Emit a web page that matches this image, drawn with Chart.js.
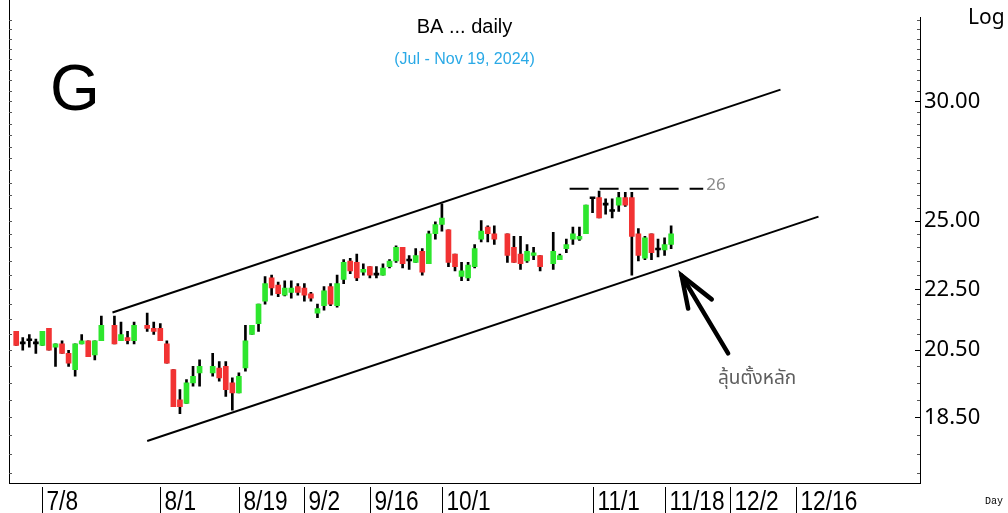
<!DOCTYPE html>
<html>
<head>
<meta charset="utf-8">
<script src="https://cdn.jsdelivr.net/npm/chart.js@4.4.1/dist/chart.umd.min.js"></script>
<style>
  html, body { margin: 0; padding: 0; background: #fff; }
  canvas { display: block; }
</style>
</head>
<body>
<canvas id="baChart" width="1008" height="513"></canvas>
<script>
// Daily candles, Jul 2 - Nov 19 2024 (SET holidays are simply missing)
const dates = [
  '2024-07-02', '2024-07-03', '2024-07-04', '2024-07-05',
  '2024-07-08', '2024-07-09', '2024-07-10', '2024-07-11', '2024-07-12',
  '2024-07-15', '2024-07-16', '2024-07-17', '2024-07-18', '2024-07-19',
  '2024-07-23', '2024-07-24', '2024-07-25', '2024-07-26',
  '2024-07-30', '2024-07-31', '2024-08-01', '2024-08-02',
  '2024-08-05', '2024-08-06', '2024-08-07', '2024-08-08', '2024-08-09',
  '2024-08-13', '2024-08-14', '2024-08-15', '2024-08-16',
  '2024-08-19', '2024-08-20', '2024-08-21', '2024-08-22', '2024-08-23',
  '2024-08-26', '2024-08-27', '2024-08-28', '2024-08-29', '2024-08-30',
  '2024-09-02', '2024-09-03', '2024-09-04', '2024-09-05', '2024-09-06',
  '2024-09-09', '2024-09-10', '2024-09-11', '2024-09-12', '2024-09-13',
  '2024-09-16', '2024-09-17', '2024-09-18', '2024-09-19', '2024-09-20',
  '2024-09-23', '2024-09-24', '2024-09-25', '2024-09-26', '2024-09-27',
  '2024-09-30', '2024-10-01', '2024-10-02', '2024-10-03', '2024-10-04',
  '2024-10-07', '2024-10-08', '2024-10-09', '2024-10-10', '2024-10-11',
  '2024-10-15', '2024-10-16', '2024-10-17', '2024-10-18',
  '2024-10-21', '2024-10-22', '2024-10-24', '2024-10-25',
  '2024-10-28', '2024-10-29', '2024-10-30', '2024-10-31', '2024-11-01',
  '2024-11-04', '2024-11-05', '2024-11-06', '2024-11-07', '2024-11-08',
  '2024-11-11', '2024-11-12', '2024-11-13', '2024-11-14', '2024-11-15',
  '2024-11-18', '2024-11-19'
];
const opens = [
  21.1, 20.7, 20.8, 20.7,
  20.65, 21.2, 20.6, 20.7, 20.4,
  19.9, 20.7, 20.8, 20.35, 20.8,
  21.3, 20.8, 20.9, 20.8,
  21.3, 21.2, 21.2, 20.7,
  19.9, 19.0, 18.9, 19.5, 19.8,
  19.8, 19.95, 20.0, 19.5,
  19.2, 19.95, 21.0, 21.35, 22.1,
  22.9, 22.65, 22.3, 22.4, 22.6,
  22.55, 22.35, 21.7, 21.95, 22.6,
  21.95, 22.85, 23.5, 23.45, 23.1,
  23.3, 23.0, 23.0, 23.3, 23.5,
  24.0, 23.5, 23.45, 23.85, 23.4,
  24.5, 24.85, 24.65, 23.75, 22.95,
  22.9, 23.3, 24.3, 24.75, 24.5,
  24.5, 24.0, 23.75, 23.5,
  23.7, 23.7, 23.4, 23.55,
  23.95, 24.3, 24.3, 24.5, 25.85,
  25.9, 25.6, 25.35, 25.6, 25.9,
  25.9, 24.5, 23.6, 24.5, 23.9,
  23.9, 24.1
];
const highs = [
  21.1, 20.9, 21.0, 20.85,
  21.1, 21.2, 20.7, 20.8, 20.5,
  20.7, 21.0, 20.8, 20.8, 21.6,
  21.6, 21.4, 21.1, 21.4,
  21.7, 21.4, 21.35, 20.8,
  19.9, 19.3, 19.6, 20.0, 20.2,
  20.4, 20.15, 20.15, 19.65,
  19.8, 21.3, 21.3, 22.0, 22.95,
  23.0, 22.75, 22.8, 22.8, 22.7,
  22.7, 22.4, 22.0, 22.6, 22.7,
  23.0, 23.55, 23.6, 23.75, 23.4,
  23.3, 23.3, 23.4, 23.55, 24.05,
  24.0, 23.7, 23.95, 23.95, 24.6,
  24.95, 25.65, 24.65, 23.75, 23.45,
  23.45, 24.1, 25.0, 24.8, 24.8,
  24.5, 24.4, 24.4, 24.1,
  24.0, 23.7, 24.55, 23.75,
  24.3, 24.75, 24.75, 25.6, 25.85,
  26.15, 25.85, 25.85, 26.1, 26.1,
  26.1, 24.7, 24.4, 24.5, 24.3,
  24.35, 24.8
];
const lows = [
  20.65, 20.5, 20.6, 20.4,
  20.65, 20.5, 20.0, 20.4, 20.0,
  19.7, 20.7, 20.3, 20.2, 20.8,
  20.7, 20.8, 20.7, 20.7,
  21.1, 21.0, 20.8, 20.1,
  18.8, 18.6, 18.9, 19.4, 19.4,
  19.7, 19.55, 19.1, 18.7,
  19.2, 19.85, 21.0, 21.1, 22.0,
  22.3, 22.25, 22.28, 22.2, 22.3,
  22.1, 22.1, 21.55, 21.8, 21.95,
  21.9, 22.7, 23.05, 22.8, 23.0,
  22.9, 22.9, 23.0, 23.25, 23.45,
  23.25, 23.2, 23.45, 23.0, 23.4,
  24.3, 24.6, 23.3, 23.15, 22.8,
  22.8, 23.25, 24.2, 24.2, 24.1,
  23.45, 23.45, 23.2, 23.45,
  23.55, 23.15, 23.2, 23.55,
  23.8, 24.1, 24.25, 24.5, 25.3,
  25.1, 25.25, 25.1, 25.35, 25.55,
  23.0, 23.5, 23.55, 23.55, 23.65,
  23.7, 23.95
];
const closes = [
  20.65, 20.7, 20.8, 20.7,
  21.1, 20.5, 20.7, 20.4, 20.1,
  20.7, 20.8, 20.3, 20.8, 21.3,
  20.7, 21.0, 20.8, 21.3,
  21.2, 21.1, 20.8, 20.1,
  18.8, 18.8, 19.5, 19.7, 20.0,
  20.0, 19.65, 19.3, 19.2,
  19.7, 20.8, 21.3, 22.0, 22.7,
  22.55, 22.35, 22.55, 22.55, 22.4,
  22.3, 22.2, 21.85, 22.45, 22.0,
  22.7, 23.45, 23.15, 22.9, 23.2,
  23.0, 23.0, 23.25, 23.5, 24.0,
  23.4, 23.5, 23.7, 23.1, 24.5,
  24.85, 25.1, 23.45, 23.3, 23.15,
  23.35, 23.95, 24.6, 24.5, 24.3,
  23.7, 23.45, 23.4, 23.85,
  23.8, 23.3, 23.85, 23.7,
  24.1, 24.5, 24.4, 25.6, 25.85,
  25.1, 25.6, 25.35, 25.9, 25.6,
  24.4, 23.7, 24.35, 23.8, 23.9,
  24.1, 24.5
];

// bottom axis labels
const tickDates = ['2024-07-08', '2024-08-01', '2024-08-19', '2024-09-02', '2024-09-16',
                   '2024-10-01', '2024-11-01', '2024-11-18', '2024-12-02', '2024-12-16'];
const tickLabels = ['7/8', '8/1', '8/19', '9/2', '9/16', '10/1', '11/1', '11/18', '12/2', '12/16'];

// right axis labels
const priceTicks = [18.5, 20.5, 22.5, 25, 30];

// trend channel + resistance, x = weekday count from 7/8
const upperX = [10.7, 112.7];
const upperY = [21.72, 30.55];
const lowerX = [16.0, 118.5];
const lowerY = [17.84, 25.15];
const resistX = [80.5, 100.9];
const resistY = [26.25, 26.25];
const resistLabel = '26';

// arrow pointing at the lower channel line
const arrowShaftX = [104.7, 97.6];
const arrowShaftY = [20.4, 22.98];
const arrowHeadX = [98.6, 97.6, 102.2];
const arrowHeadY = [21.85, 22.98, 22.16];
const arrowText = 'ลุ้นตั้งหลัก';

const UP = '#2ee62e';
const DOWN = '#f23333';

// weekdays since Mon 7/8 (holidays keep their slot)
const baseDay = Date.UTC(2024, 6, 8);
function weekdayIndex(d) {
    const parts = d.split('-').map(Number);
    const days = Math.round((Date.UTC(parts[0], parts[1] - 1, parts[2]) - baseDay) / 86400000);
    const weeks = Math.floor(days / 7);
    return weeks * 5 + (days - weeks * 7);
}

function toPoints(xs, ys) {
    return xs.map((x, i) => ({ x: x, y: ys[i] }));
}

const bodyData = dates.map((d, i) => ({ x: weekdayIndex(d), y: [opens[i], closes[i]] }));
const wickData = dates.map((d, i) => ({ x: weekdayIndex(d), y: [lows[i], highs[i]] }));
const bodyColors = dates.map((d, i) => closes[i] > opens[i] ? UP : (closes[i] < opens[i] ? DOWN : '#000'));

// small tick marks along both vertical edges
const minorTicks = [];
for (let v = 17; v <= 34; v += 0.5) minorTicks.push(v);

const decor = {
    id: 'decor',
    afterDraw(chart) {
        const ctx = chart.ctx;
        const area = chart.chartArea;
        const xs = chart.scales.x;
        const ys = chart.scales.y;
        ctx.save();
        ctx.strokeStyle = '#000';
        ctx.lineWidth = 1;

        // left frame line
        ctx.beginPath();
        ctx.moveTo(area.left + 0.5, 0);
        ctx.lineTo(area.left + 0.5, area.bottom);
        ctx.stroke();

        // tick marks on the left and right edges
        ctx.strokeStyle = '#555';
        minorTicks.forEach(v => {
            const y = Math.round(ys.getPixelForValue(v)) + 0.5;
            ctx.beginPath();
            ctx.moveTo(area.right - 3, y); ctx.lineTo(area.right, y);
            ctx.moveTo(area.left, y); ctx.lineTo(area.left + 3, y);
            ctx.stroke();
        });
        ctx.strokeStyle = '#000';
        priceTicks.forEach(v => {
            const y = Math.round(ys.getPixelForValue(v)) + 0.5;
            ctx.beginPath();
            ctx.moveTo(area.right - 5, y); ctx.lineTo(area.right, y);
            ctx.stroke();
        });

        // date separators and narrow date labels under the axis
        ctx.fillStyle = '#000';
        ctx.textAlign = 'left';
        ctx.textBaseline = 'alphabetic';
        ctx.font = '27px "Liberation Sans", Arial, sans-serif';
        tickDates.forEach((d, i) => {
            const x = Math.round(xs.getPixelForValue(weekdayIndex(d))) + 0.5;
            ctx.beginPath();
            ctx.moveTo(x, area.bottom + 4);
            ctx.lineTo(x, chart.height);
            ctx.stroke();
            ctx.save();
            ctx.translate(x + 4, 510);
            ctx.scale(0.84, 1);
            ctx.fillText(tickLabels[i], 0, 0);
            ctx.restore();
        });

        // titles
        ctx.textAlign = 'center';
        ctx.textBaseline = 'middle';
        ctx.fillStyle = '#000';
        ctx.font = '20px "Liberation Sans", Arial, sans-serif';
        ctx.fillText('BA ... daily', (area.left + area.right) / 2, 27);
        ctx.fillStyle = '#2aa9e6';
        ctx.font = '16px "Liberation Sans", Arial, sans-serif';
        ctx.fillText('(Jul - Nov 19, 2024)', (area.left + area.right) / 2, 60);

        ctx.textAlign = 'left';
        ctx.textBaseline = 'alphabetic';
        ctx.fillStyle = '#000';
        ctx.font = '64px "Liberation Sans", Arial, sans-serif';
        ctx.fillText('G', 50, 110);

        ctx.textBaseline = 'middle';
        ctx.font = '21px "Noto Sans", sans-serif';
        ctx.fillText('Log', 968, 18);
        ctx.font = '10px "Liberation Mono", "DejaVu Sans Mono", monospace';
        ctx.fillText('Day', 985, 501);

        // resistance label
        ctx.fillStyle = '#8a8a8a';
        ctx.font = '17px "Noto Sans", sans-serif';
        ctx.fillText(resistLabel, xs.getPixelForValue(resistX[1]) + 3, ys.getPixelForValue(resistY[1]) - 4);

        // comment under the arrow
        ctx.fillStyle = '#5e5e5e';
        ctx.font = '19px "Noto Sans Thai", "Noto Sans", "DejaVu Sans", sans-serif';
        ctx.fillText(arrowText, 718, 380);
        ctx.restore();
    }
};

const lineStyle = { type: 'line', borderColor: '#000', borderWidth: 2, pointRadius: 0, tension: 0, fill: false, order: 0 };

new Chart(document.getElementById('baChart').getContext('2d'), {
    type: 'bar',
    data: {
        datasets: [
            { label: 'body', data: bodyData, backgroundColor: bodyColors, barThickness: 5, minBarLength: 2, grouped: false, order: 1 },
            { label: 'wick', data: wickData, backgroundColor: '#000', barThickness: 2, grouped: false, order: 2 },
            Object.assign({ label: 'upper', data: toPoints(upperX, upperY) }, lineStyle),
            Object.assign({ label: 'lower', data: toPoints(lowerX, lowerY) }, lineStyle),
            Object.assign({ label: 'resist', data: toPoints(resistX, resistY), borderDash: [19, 11] }, lineStyle),
            Object.assign({ label: 'shaft', data: toPoints(arrowShaftX, arrowShaftY) }, lineStyle, { borderWidth: 4.5, borderCapStyle: 'round' }),
            Object.assign({ label: 'head', data: toPoints(arrowHeadX, arrowHeadY) }, lineStyle, { borderWidth: 4.5, borderCapStyle: 'round', borderJoinStyle: 'miter' })
        ]
    },
    options: {
        responsive: false,
        animation: false,
        layout: { padding: { top: 13, left: 9, right: 0, bottom: 0 } },
        plugins: {
            legend: { display: false },
            tooltip: { enabled: false },
            title: { display: false }
        },
        scales: {
            x: {
                type: 'linear',
                min: -5.1,
                max: 134,
                bounds: 'data',
                offset: false,
                grid: { display: false, drawTicks: false },
                border: { display: true, color: '#000', width: 1 },
                // labels are drawn narrow by the decor plugin
                ticks: { display: false, autoSkip: false },
                afterBuildTicks: scale => {
                    scale.ticks = tickDates.map(d => ({ value: weekdayIndex(d) }));
                },
                afterFit: scale => { scale.height = 30; }
            },
            y: {
                type: 'logarithmic',
                position: 'right',
                min: 16.73,
                max: 34.13,
                bounds: 'data',
                grid: { display: false, drawTicks: false },
                border: { display: true, color: '#000', width: 1 },
                ticks: {
                    autoSkip: false,
                    padding: 4,
                    color: '#000',
                    font: { family: '"Noto Sans", sans-serif', size: 22 },
                    callback: v => Number(v).toFixed(2)
                },
                afterBuildTicks: scale => {
                    scale.ticks = priceTicks.map(v => ({ value: v }));
                },
                afterFit: scale => { scale.width = 88; }
            }
        }
    },
    plugins: [decor]
});
</script>
</body>
</html>
